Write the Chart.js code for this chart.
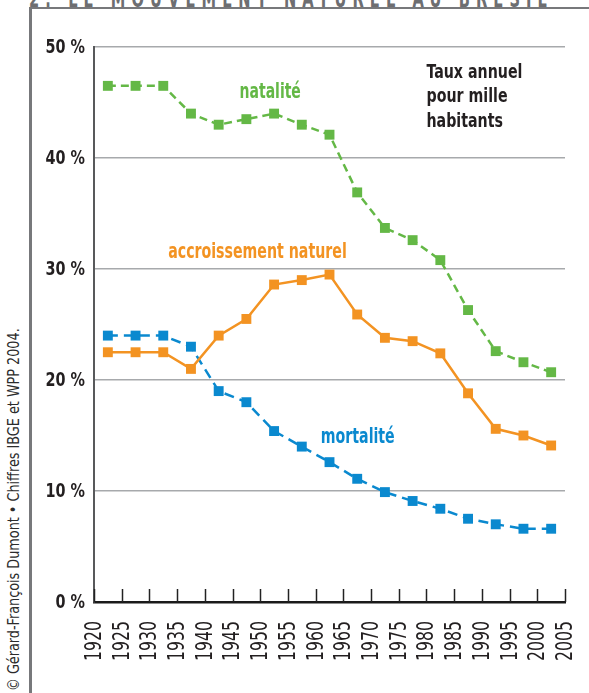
<!DOCTYPE html>
<html lang="fr">
<head>
<meta charset="utf-8">
<title>Le mouvement naturel au Brésil</title>
<script src="https://cdn.jsdelivr.net/npm/chart.js@4.4.1/dist/chart.umd.min.js"></script>
<style>
    html, body { margin: 0; padding: 0; background: #fff; }
    #page { position: relative; width: 589px; height: 693px; overflow: hidden; }
    #graphique { position: absolute; left: 0; top: 0; }
    #titre {
        position: absolute; left: 29px; top: -13px;
        font: bold 24px 'DejaVu Sans Condensed', sans-serif; line-height: 24px;
        letter-spacing: 9px; color: #6d6e71; white-space: nowrap;
        transform-origin: 0 0;
    }
    #cadre {
        position: absolute; left: 29px; top: 7px; right: -5px; bottom: -5px;
        border-left: 3px solid #77787b; border-top: 2px solid #77787b;
    }
    #source {
        position: absolute; left: 6px; top: 691px;
        transform-origin: 0 0; transform: rotate(-90deg) scaleX(0.89);
        font: 16px 'DejaVu Sans Condensed', sans-serif;
        line-height: 16px; color: #2b2b2b; white-space: nowrap;
    }
</style>
</head>
<body>
<div id="page">
    <div id="titre">2. LE MOUVEMENT NATUREL AU BRÉSIL</div>
    <div id="cadre"></div>
    <div id="source">© Gérard-François Dumont • Chiffres IBGE et WPP 2004.</div>
    <canvas id="graphique" width="589" height="693"></canvas>
</div>
<script>
// données (taux pour mille, milieu de chaque période quinquennale)
const annees = [1922.5, 1927.5, 1932.5, 1937.5, 1942.5, 1947.5, 1952.5, 1957.5, 1962.5,
                1967.5, 1972.5, 1977.5, 1982.5, 1987.5, 1992.5, 1997.5, 2002.5];
const natalite = [46.5, 46.5, 46.5, 44.0, 43.0, 43.5, 44.0, 43.0, 42.1,
                  36.9, 33.7, 32.6, 30.8, 26.3, 22.6, 21.6, 20.7];
const accroissement = [22.5, 22.5, 22.5, 21.0, 24.0, 25.5, 28.6, 29.0, 29.5,
                       25.9, 23.8, 23.5, 22.4, 18.8, 15.6, 15.0, 14.1];
const mortalite = [24.0, 24.0, 24.0, 23.0, 19.0, 18.0, 15.4, 14.0, 12.6,
                   11.1, 9.9, 9.1, 8.4, 7.5, 7.0, 6.6, 6.6];
const graduationsX = [1920, 2005, 5];   // min, max, pas
const graduationsY = [0, 50, 10];

const POLICE = "'DejaVu Sans Condensed', sans-serif";
const VERT = '#64b846', ORANGE = '#f39322', BLEU = '#0a89cf';

// le titre, coupé en haut du cadre, occupe toute la largeur
const titre = document.getElementById('titre');
titre.style.transform = 'scaleX(' + (524 / titre.getBoundingClientRect().width) + ')';

const points = serie => annees.map((a, i) => ({ x: a, y: serie[i] }));

const serie = (label, valeurs, couleur, tirets) => ({
    label: label,
    data: points(valeurs),
    borderColor: couleur,
    backgroundColor: couleur,
    borderWidth: 2.5,
    borderDash: tirets,
    pointStyle: 'rect',
    pointRadius: 7,
    pointBorderWidth: 0,
    pointBackgroundColor: couleur,
    tension: 0
});

// texte étroit : la police condensée est encore resserrée horizontalement
function texteEtroit(ctx, txt, x, y, serrage, rotation) {
    ctx.save();
    ctx.translate(x, y);
    if (rotation) ctx.rotate(rotation);
    ctx.scale(serrage, 1);
    ctx.fillText(txt, 0, 0);
    ctx.restore();
}

// graduations vers le haut, libellés des axes et étiquettes des courbes
const decor = {
    id: 'decor',
    afterDatasetsDraw(chart) {
        const { ctx, scales: { x, y } } = chart;
        const base = y.getPixelForValue(graduationsY[0]);
        ctx.save();
        ctx.strokeStyle = '#222';
        ctx.lineWidth = 1.5;
        x.ticks.forEach(t => {
            const px = Math.round(x.getPixelForValue(t.value)) + 0.5;
            ctx.beginPath();
            ctx.moveTo(px, base);
            ctx.lineTo(px, base - 13);
            ctx.stroke();
        });

        ctx.fillStyle = '#231f20';
        ctx.textBaseline = 'middle';
        ctx.textAlign = 'right';
        ctx.font = 'bold 20px ' + POLICE;
        y.ticks.forEach(t => {
            texteEtroit(ctx, t.value + ' %', x.left - 9, y.getPixelForValue(t.value) + 1, 0.8);
        });
        ctx.font = '23px ' + POLICE;
        x.ticks.forEach(t => {
            texteEtroit(ctx, String(t.value), x.getPixelForValue(t.value) + 1, base + 19, 0.76, -Math.PI / 2);
        });

        ctx.font = 'bold 21px ' + POLICE;
        ctx.textAlign = 'center';
        ctx.fillStyle = VERT;
        texteEtroit(ctx, 'natalité', x.getPixelForValue(1951.8), y.getPixelForValue(45.9), 0.74);
        ctx.fillStyle = ORANGE;
        texteEtroit(ctx, 'accroissement naturel', x.getPixelForValue(1949.5), y.getPixelForValue(31.5), 0.75);
        ctx.fillStyle = BLEU;
        texteEtroit(ctx, 'mortalité', x.getPixelForValue(1967.6), y.getPixelForValue(14.8), 0.75);
        ctx.fillStyle = '#231f20';
        ctx.textAlign = 'left';
        ctx.font = 'bold 20px ' + POLICE;
        const xl = x.getPixelForValue(1980);
        ['Taux annuel', 'pour mille', 'habitants'].forEach((t, i) => {
            texteEtroit(ctx, t, xl, y.getPixelForValue(47.7) + i * 24.5, 0.79);
        });
        ctx.restore();
    }
};

new Chart(document.getElementById('graphique'), {
    type: 'line',
    data: {
        datasets: [
            serie('natalité', natalite, VERT, [8, 5]),
            serie('accroissement naturel', accroissement, ORANGE, []),
            serie('mortalité', mortalite, BLEU, [10, 6])
        ]
    },
    options: {
        responsive: false,
        animation: false,
        layout: { padding: { left: 30, right: 24, top: 47, bottom: 0 } },
        plugins: { legend: { display: false }, tooltip: { enabled: false } },
        scales: {
            x: {
                type: 'linear',
                min: graduationsX[0],
                max: graduationsX[1],
                afterFit: s => { s.height = 91; s.paddingLeft = 0; s.paddingRight = 0; },
                afterBuildTicks: s => {
                    s.ticks = [];
                    for (let a = graduationsX[0]; a <= graduationsX[1]; a += graduationsX[2]) s.ticks.push({ value: a });
                },
                ticks: { display: false, autoSkip: false },
                grid: { display: false, drawTicks: false },
                border: { display: true, color: '#1a1a1a', width: 2.5 }
            },
            y: {
                min: graduationsY[0],
                max: graduationsY[1],
                afterFit: s => { s.width = 64; s.paddingTop = 0; s.paddingBottom = 0; },
                ticks: { display: false, stepSize: graduationsY[2] },
                grid: { color: '#a7a9ac', lineWidth: 1.5, drawTicks: false },
                border: { color: '#58595b', width: 2 }
            }
        }
    },
    plugins: [decor]
});
</script>
</body>
</html>
